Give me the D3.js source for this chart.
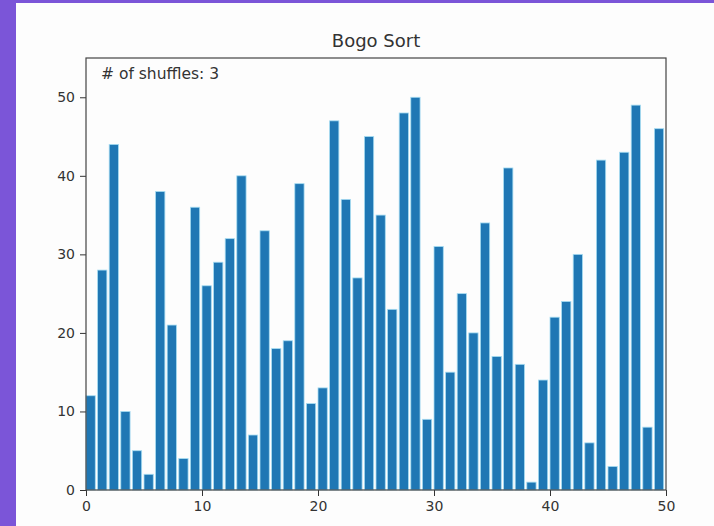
<!DOCTYPE html>
<html>
<head>
<meta charset="utf-8">
<script src="https://cdn.jsdelivr.net/npm/d3@7"></script>
<style>
html,body{margin:0;padding:0;background:#7b55d8;}
svg{display:block;}
</style>
</head>
<body>
<svg id="chart" width="714" height="526"></svg>
<script>
const titleText = "Bogo Sort";
const annotation = "# of shuffles: 3";
const positions = d3.range(50);
const values = [12,28,44,10,5,2,38,21,4,36,26,29,32,40,7,33,18,19,39,11,13,47,37,27,45,35,23,48,50,9,31,15,25,20,34,17,41,16,1,14,22,24,30,6,42,3,43,49,8,46];
const xTicks = [0,10,20,30,40,50];
const yTicks = [0,10,20,30,40,50];

const svg = d3.select("#chart");
const W = 714, H = 526;
const m = {left:86, right:48, top:58, bottom:36};

svg.append("rect").attr("x",0).attr("y",0).attr("width",W).attr("height",H).attr("fill","#7b55d8");
svg.append("rect").attr("x",16).attr("y",3).attr("width",W-16).attr("height",H-3).attr("fill","#fdfdfd");

const x = d3.scaleLinear().domain([0,50]).range([m.left, W-m.right]);
const y = d3.scaleLinear().domain([0,55]).range([H-m.bottom, m.top]);

svg.append("g").selectAll("rect").data(values).join("rect")
  .attr("x",(d,i)=>x(positions[i]))
  .attr("width",x(0.8)-x(0))
  .attr("y",d=>y(d))
  .attr("height",d=>y(0)-y(d))
  .attr("fill","#1f77b4")
  .attr("stroke","#a6dcf2")
  .attr("stroke-width",0.8);

const font = "DejaVu Sans, sans-serif";

const xAxis = svg.append("g").attr("transform",`translate(0,${H-m.bottom})`)
  .call(d3.axisBottom(x).tickValues(xTicks).tickFormat(d3.format("d")).tickSizeOuter(0).tickSize(6).tickPadding(5));
const yAxis = svg.append("g").attr("transform",`translate(${m.left},0)`)
  .call(d3.axisLeft(y).tickValues(yTicks).tickFormat(d3.format("d")).tickSizeOuter(0).tickSize(6).tickPadding(5));
[xAxis,yAxis].forEach(g=>{
  g.attr("font-size",null).attr("font-family",null);
  g.select(".domain").remove();
  g.selectAll("line").attr("stroke","#333").attr("stroke-width",1);
  g.selectAll("text").attr("fill","#333").style("font-family",font).style("font-size","14px");
});

svg.append("rect").attr("x",m.left).attr("y",m.top)
  .attr("width",W-m.right-m.left).attr("height",H-m.bottom-m.top)
  .attr("fill","none").attr("stroke","#444").attr("stroke-width",1.2);

svg.append("text").attr("x",(m.left+W-m.right)/2).attr("y",47)
  .attr("text-anchor","middle").attr("fill","#333")
  .style("font-family",font).style("font-size","18px").text(titleText);

svg.append("text").attr("x",101).attr("y",79)
  .attr("fill","#333")
  .style("font-family",font).style("font-size","15.5px").text(annotation);
</script>
</body>
</html>
